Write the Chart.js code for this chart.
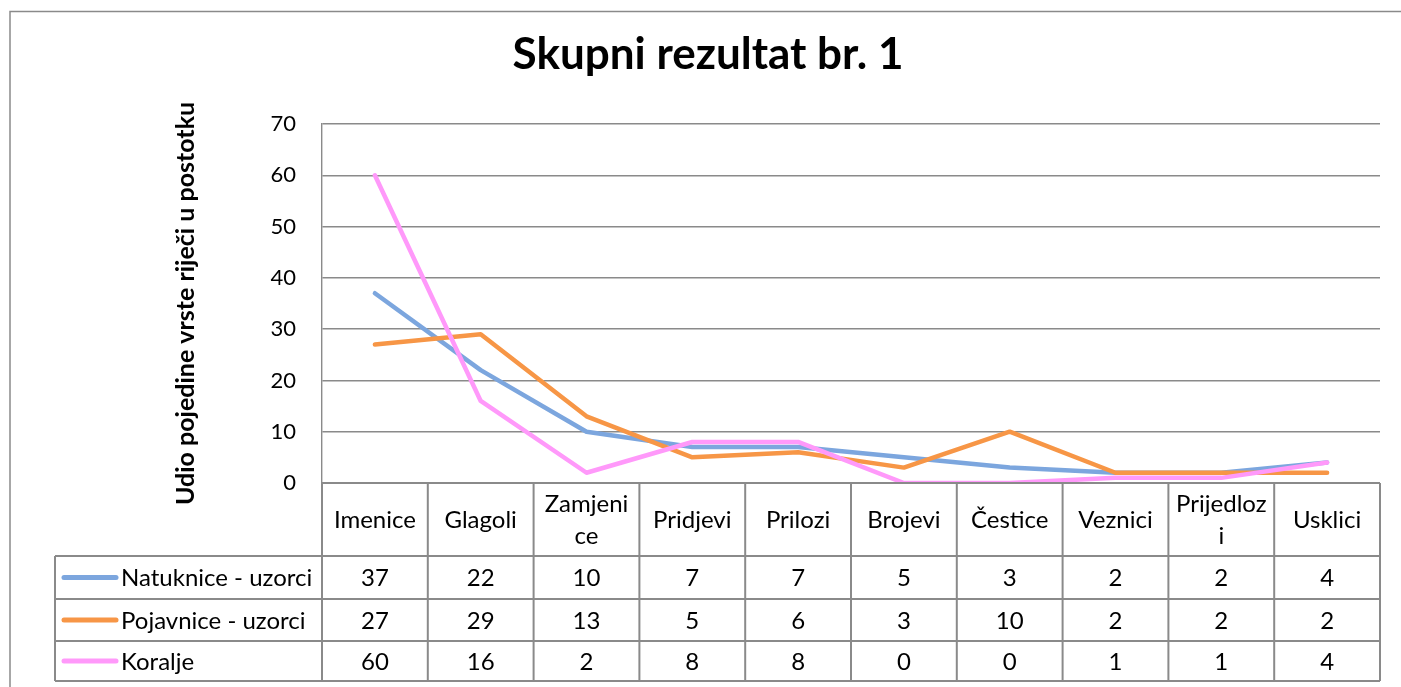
<!DOCTYPE html>
<html>
<head>
<meta charset="utf-8">
<script src="https://cdn.jsdelivr.net/npm/chart.js@4.4.0/dist/chart.umd.min.js"></script>
<style>
  html, body { margin: 0; padding: 0; background: #fff; }
  canvas { display: block; }
</style>
</head>
<body>
<canvas id="chart" width="1401" height="687"></canvas>
<script>
// data
const categories = [['Imenice'], ['Glagoli'], ['Zamjeni', 'ce'], ['Pridjevi'], ['Prilozi'],
                    ['Brojevi'], ['Čestice'], ['Veznici'], ['Prijedloz', 'i'], ['Usklici']];
const seriesNames = ['Natuknice - uzorci', 'Pojavnice - uzorci', 'Koralje'];
const natuknice = [37, 22, 10, 7, 7, 5, 3, 2, 2, 4];
const pojavnice = [27, 29, 13, 5, 6, 3, 10, 2, 2, 2];
const koralje = [60, 16, 2, 8, 8, 0, 0, 1, 1, 4];
const seriesColors = ['#7ca6de', '#f79646', '#ff99fa'];
const yMin = 0, yMax = 70, yStep = 10;

const FONT = 'Lato, "Noto Sans", sans-serif';
const GRID = '#8a8a8a';

// outer frame of the chart object
const framePlugin = {
    id: 'frame',
    beforeDraw(chart) {
        const ctx = chart.ctx;
        ctx.save();
        ctx.strokeStyle = GRID;
        ctx.lineWidth = 1.5;
        ctx.strokeRect(10, 11.5, chart.width + 20, chart.height + 20);
        ctx.restore();
    }
};

// Excel style data table under the plot
const dataTablePlugin = {
    id: 'dataTable',
    afterDraw(chart) {
        const ctx = chart.ctx;
        const area = chart.chartArea;
        const xs = chart.scales.x;
        const n = categories.length;
        const colW = (area.right - area.left) / n;
        const legendLeft = 55;
        const headTop = area.bottom;
        const rowLines = [headTop + 73, headTop + 116, headTop + 158, headTop + 198];
        const rows = [natuknice, pojavnice, koralje];

        ctx.save();
        ctx.strokeStyle = GRID;
        ctx.lineWidth = 2;
        ctx.beginPath();
        ctx.moveTo(area.left, headTop);
        ctx.lineTo(area.right, headTop);
        rowLines.forEach(y => {
            ctx.moveTo(legendLeft, y);
            ctx.lineTo(area.right, y);
        });
        ctx.moveTo(legendLeft, rowLines[0]);
        ctx.lineTo(legendLeft, rowLines[3]);
        for (let i = 0; i <= n; i++) {
            const x = area.left + i * colW;
            ctx.moveTo(x, headTop);
            ctx.lineTo(x, rowLines[3]);
        }
        ctx.stroke();

        ctx.fillStyle = '#000';
        ctx.font = '24px ' + FONT;
        ctx.textAlign = 'center';
        ctx.textBaseline = 'middle';
        categories.forEach((lines, i) => {
            const cx = xs.getPixelForValue(i);
            const mid = headTop + 37;
            const lh = 32;
            lines.forEach((t, k) => {
                ctx.fillText(t, cx, mid + (k - (lines.length - 1) / 2) * lh);
            });
        });

        rows.forEach((vals, r) => {
            const y0 = rowLines[r], y1 = rowLines[r + 1];
            const cy = (y0 + y1) / 2 + 1;
            vals.forEach((v, i) => {
                ctx.textAlign = 'center';
                ctx.fillText(String(v), xs.getPixelForValue(i), cy);
            });
            // legend key
            ctx.strokeStyle = seriesColors[r];
            ctx.lineWidth = 5;
            ctx.lineCap = 'round';
            ctx.beginPath();
            ctx.moveTo(64, cy - 1);
            ctx.lineTo(116, cy - 1);
            ctx.stroke();
            ctx.textAlign = 'left';
            ctx.fillText(seriesNames[r], 121, cy);
        });
        ctx.restore();
    }
};

const makeSet = (label, data, color, order) => ({
    label: label,
    data: data,
    borderColor: color,
    backgroundColor: color,
    borderWidth: 4.5,
    pointRadius: 0,
    tension: 0,
    borderJoinStyle: 'round',
    borderCapStyle: 'round',
    order: order
});

new Chart(document.getElementById('chart'), {
    type: 'line',
    data: {
        labels: categories,
        datasets: [
            makeSet(seriesNames[0], natuknice, seriesColors[0], 3),
            makeSet(seriesNames[1], pojavnice, seriesColors[1], 2),
            makeSet(seriesNames[2], koralje, seriesColors[2], 1)
        ]
    },
    options: {
        responsive: false,
        animation: false,
        layout: { padding: { left: 18, right: 3, top: 0, bottom: 204 } },
        plugins: {
            legend: { display: false },
            tooltip: { enabled: false },
            title: {
                display: true,
                text: 'Skupni rezultat br. 1',
                color: '#000',
                font: { family: FONT, size: 44, weight: 'bold' },
                padding: { top: 28, bottom: 43.2 }
            }
        },
        scales: {
            x: {
                display: false,
                offset: true
            },
            y: {
                min: yMin,
                max: yMax,
                ticks: {
                    stepSize: yStep,
                    color: '#000',
                    font: { family: FONT, size: 22 },
                    padding: 26
                },
                grid: { color: GRID, lineWidth: 1.4, drawTicks: false },
                border: { color: GRID, width: 1.4 },
                title: {
                    display: true,
                    text: 'Udio pojedine vrste riječi u postotku',
                    color: '#000',
                    font: { family: FONT, size: 25, weight: 'bold' },
                    padding: { top: 153, bottom: 0 }
                },
                afterFit(scale) { scale.width = 304; }
            },
            y2: {
                position: 'right',
                display: true,
                grid: { display: false },
                border: { display: false },
                ticks: { display: false },
                afterFit(scale) { scale.width = 18; }
            }
        }
    },
    plugins: [framePlugin, dataTablePlugin]
});
</script>
</body>
</html>
